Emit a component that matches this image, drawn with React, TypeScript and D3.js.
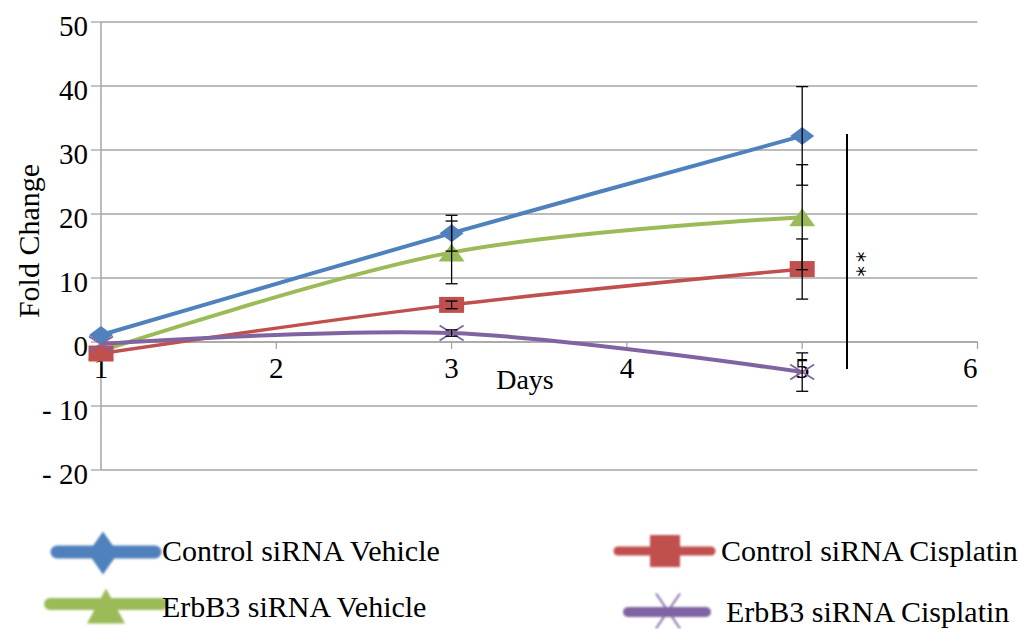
import React from "react";
import * as d3 from "d3";

// Days sampled and the fold-change readings for each treatment group
const days = [1, 3, 5];
const controlVehicle = [1.1, 17.0, 32.2];
const controlVehicleErr = [0, 2.8, 7.7];
const erbb3Vehicle = [-1.4, 14.0, 19.5];
const erbb3VehicleErr = [0, 4.9, 8.2];
const controlCisplatin = [-1.8, 5.8, 11.4];
const controlCisplatinErr = [0, 0.6, 4.7];
const erbb3Cisplatin = [-0.3, 1.4, -4.7];
const erbb3CisplatinErr = [0, 0.5, 3.0];

const yTicks = [-20, -10, 0, 10, 20, 30, 40, 50];
const xTicks = [1, 2, 3, 4, 5, 6];
const seriesNames = [
  "Control siRNA Vehicle",
  "ErbB3 siRNA Vehicle",
  "Control siRNA Cisplatin",
  "ErbB3 siRNA Cisplatin",
];
// Significance bracket spans these fold-change values
const bracketRange = [-4.2, 32.5];
const bracketLabel = "**";

const W = 1026;
const H = 629;
const SERIF = "Liberation Serif";

const BLUE = "#4F81BD";
const GREEN = "#9BBB59";
const RED = "#C0504D";
const PURPLE = "#8064A2";
const GRID = "#a6a6a6";

const x = d3.scaleLinear().domain([1, 6]).range([101, 977.5]);
const y = d3.scaleLinear().domain([-20, 50]).range([470, 22]);

type Marker = "diamond" | "triangle" | "square" | "cross";

const series = [
  { name: seriesNames[0], values: controlVehicle, err: controlVehicleErr, color: BLUE, marker: "diamond" as Marker, width: 4 },
  { name: seriesNames[1], values: erbb3Vehicle, err: erbb3VehicleErr, color: GREEN, marker: "triangle" as Marker, width: 4 },
  { name: seriesNames[2], values: controlCisplatin, err: controlCisplatinErr, color: RED, marker: "square" as Marker, width: 3.5 },
  { name: seriesNames[3], values: erbb3Cisplatin, err: erbb3CisplatinErr, color: PURPLE, marker: "cross" as Marker, width: 4 },
];

function markerShape(kind: Marker, cx: number, cy: number, w: number, h: number, color: string, key?: string) {
  const hw = w / 2;
  const hh = h / 2;
  if (kind === "diamond") {
    return <path key={key} d={`M${cx},${cy - hh}L${cx + hw},${cy}L${cx},${cy + hh}L${cx - hw},${cy}Z`} fill={color} />;
  }
  if (kind === "triangle") {
    return <path key={key} d={`M${cx},${cy - hh}L${cx + hw},${cy + hh}L${cx - hw},${cy + hh}Z`} fill={color} />;
  }
  if (kind === "square") {
    return <rect key={key} x={cx - hw} y={cy - hh} width={w} height={h} fill={color} />;
  }
  return (
    <path
      key={key}
      d={`M${cx - hw},${cy - hh}L${cx + hw},${cy + hh}M${cx + hw},${cy - hh}L${cx - hw},${cy + hh}`}
      stroke={color}
      strokeWidth={1.8}
      fill="none"
    />
  );
}

const chartMarkerSize: Record<Marker, [number, number]> = {
  diamond: [24, 18],
  triangle: [26, 18],
  square: [25, 16],
  cross: [24, 15],
};

const serifStyle = { fontFamily: `"${SERIF}", "Times New Roman", Times, serif` };

export default function App() {
  const line = d3
    .line<number>()
    .x((_, i) => x(days[i]))
    .y((v) => y(v))
    .curve(d3.curveCatmullRom.alpha(0.5));

  const x0 = x.range()[0];
  const x1 = x.range()[1];

  const legend = [
    { s: series[0], lx1: 57, lx2: 155, ly: 552, lw: 13, mx: 103, my: 553, mw: 30, mh: 43, tx: 162, ty: 561 },
    { s: series[1], lx1: 50, lx2: 162, ly: 604, lw: 12, mx: 106, my: 606, mw: 38, mh: 35, tx: 162, ty: 617 },
    { s: series[2], lx1: 618, lx2: 711, ly: 551, lw: 9, mx: 665, my: 551, mw: 30, mh: 32, tx: 721, ty: 561 },
    { s: series[3], lx1: 628, lx2: 706, ly: 612, lw: 10, mx: 668, my: 611, mw: 24, mh: 35, tx: 726, ty: 622 },
  ];

  return (
    <svg
      width={W}
      height={H}
      viewBox={`0 0 ${W} ${H}`}
      style={{ position: "absolute", left: 0, top: 0, background: "#fff" }}
    >
      <defs>
        <filter id="soft" x="-10%" y="-30%" width="120%" height="160%">
          <feGaussianBlur stdDeviation="0.8" />
        </filter>
      </defs>

      {/* horizontal gridlines */}
      {yTicks.map((t) => (
        <line key={`g${t}`} x1={x0} x2={x1} y1={y(t)} y2={y(t)} stroke={GRID} strokeWidth={1.3} />
      ))}

      {/* y axis with ticks and labels */}
      <line x1={x0} x2={x0} y1={y(50)} y2={y(-20)} stroke={GRID} strokeWidth={1.5} />
      {yTicks.map((t) => (
        <g key={`yt${t}`}>
          <line x1={x0 - 10} x2={x0} y1={y(t)} y2={y(t)} stroke={GRID} strokeWidth={1.3} />
          <text x={88} y={y(t) + 13.5} textAnchor="end" style={serifStyle} fontSize={29} fill="#000">
            {t < 0 ? `- ${Math.abs(t)}` : `${t}`}
          </text>
        </g>
      ))}

      {/* x axis along zero */}
      <line x1={x0} x2={x1} y1={y(0)} y2={y(0)} stroke={GRID} strokeWidth={1.5} />
      {xTicks.map((t, i) => (
        <g key={`xt${t}`}>
          <line x1={x(t)} x2={x(t)} y1={y(0)} y2={y(0) + 7} stroke={GRID} strokeWidth={1.3} />
          <text
            x={x(t)}
            y={378}
            textAnchor={i === xTicks.length - 1 ? "end" : "middle"}
            style={serifStyle}
            fontSize={29}
            fill="#000"
          >
            {t}
          </text>
        </g>
      ))}

      {/* axis titles */}
      <text x={525} y={389} textAnchor="middle" style={serifStyle} fontSize={28} fill="#000">
        Days
      </text>
      <text
        transform={`translate(39,${241}) rotate(-90)`}
        textAnchor="middle"
        style={serifStyle}
        fontSize={30}
        fill="#000"
      >
        Fold Change
      </text>

      {/* series lines */}
      {series.map((s) => (
        <path key={`l${s.name}`} d={line(s.values) || ""} fill="none" stroke={s.color} strokeWidth={s.width} strokeLinejoin="round" />
      ))}

      {/* markers */}
      {series.map((s) =>
        s.values.map((v, i) => {
          const [mw, mh] = chartMarkerSize[s.marker];
          return markerShape(s.marker, x(days[i]), y(v), mw, mh, s.color, `m${s.name}${i}`);
        })
      )}

      {/* error bars */}
      {series.map((s) =>
        s.values.map((v, i) =>
          s.err[i] > 0 ? (
            <g key={`e${s.name}${i}`} stroke="#000" strokeWidth={1.3}>
              <line x1={x(days[i])} x2={x(days[i])} y1={y(v + s.err[i])} y2={y(v - s.err[i])} />
              <line x1={x(days[i]) - 6} x2={x(days[i]) + 6} y1={y(v + s.err[i])} y2={y(v + s.err[i])} />
              <line x1={x(days[i]) - 6} x2={x(days[i]) + 6} y1={y(v - s.err[i])} y2={y(v - s.err[i])} />
            </g>
          ) : null
        )
      )}

      {/* significance bracket with stacked stars */}
      <line x1={847} x2={847} y1={y(bracketRange[1])} y2={y(bracketRange[0])} stroke="#000" strokeWidth={2} />
      <text
        transform="translate(850,266) rotate(90)"
        textAnchor="middle"
        fontFamily="DejaVu Sans"
        fontSize={21}
        letterSpacing={4}
        fill="#000"
      >
        {bracketLabel}
      </text>

      {/* legend */}
      {legend.map((l) => (
        <g key={`lg${l.s.name}`}>
          <g filter="url(#soft)">
            <line x1={l.lx1} x2={l.lx2} y1={l.ly} y2={l.ly} stroke={l.s.color} strokeWidth={l.lw} strokeLinecap="round" />
            {markerShape(l.s.marker, l.mx, l.my, l.mw, l.mh, l.s.color)}
          </g>
          <text x={l.tx} y={l.ty} style={serifStyle} fontSize={30} fill="#000">
            {l.s.name}
          </text>
        </g>
      ))}
    </svg>
  );
}
